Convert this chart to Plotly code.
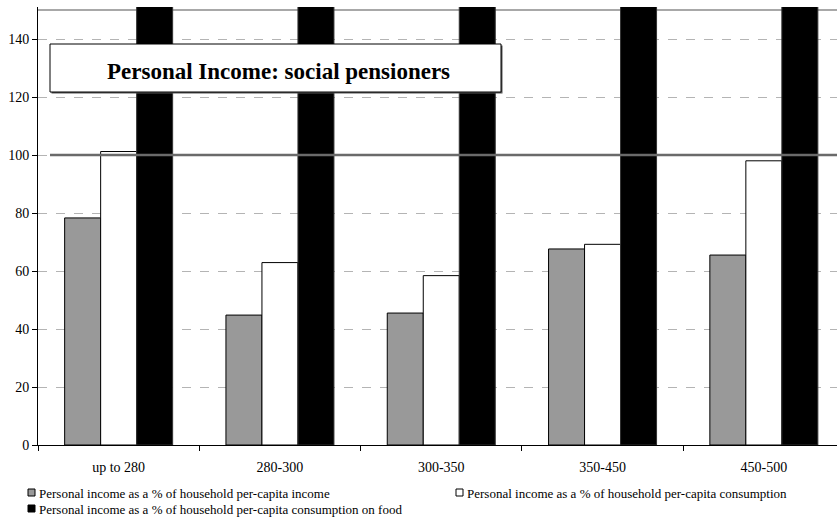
import plotly.graph_objects as go

# ---------------- data ----------------
categories = ["up to 280", "280-300", "300-350", "350-450", "450-500"]
share_of_income = [78.3, 44.8, 45.5, 67.6, 65.5]
share_of_consumption = [101.2, 62.9, 58.4, 69.2, 98.0]
share_of_food_consumption = [185, 230, 215, 190, 200]  # off-scale in the picture
series_names = [
    "Personal income as a % of household per-capita income",
    "Personal income as a % of household per-capita consumption",
    "Personal income as a % of household per-capita consumption on food",
]
reference_level = 100
y_ticks = [0, 20, 40, 60, 80, 100, 120, 140]
title_text = "Personal Income: social pensioners"

# ---------------- geometry ----------------
W, H = 837, 519
L, T, B, R = 38, 7, 74, 0
PW, PH = W - L - R, H - T - B
CAT_PX = 161.3
Y_PX = 2.9
FONT = "Times New Roman, Liberation Serif, DejaVu Serif, serif"


def px_x(x):
    return (x - L) / PW


def px_y(y):
    return (H - B - y) / PH


fills = ["#999999", "#ffffff", "#000000"]
lines = ["#000000", "#000000", "#333333"]
values = [share_of_income, share_of_consumption, share_of_food_consumption]

fig = go.Figure()
for name, vals, fc, lc in zip(series_names, values, fills, lines):
    fig.add_trace(go.Bar(x=categories, y=vals, name=name,
                         marker=dict(color=fc, line=dict(color=lc, width=1)),
                         showlegend=False, hoverinfo="skip"))

shapes = []
shapes.append(dict(type="line", xref="paper", yref="y", x0=0, x1=1, y0=150, y1=150,
                   line=dict(color="#a8a8a8", width=2), layer="below"))
shapes.append(dict(type="line", xref="paper", yref="y", x0=px_x(50), x1=1,
                   y0=reference_level, y1=reference_level,
                   line=dict(color="#6a6a6a", width=2.5), layer="above"))
shapes.append(dict(type="rect", xref="paper", yref="paper",
                   x0=px_x(51.5), x1=px_x(502.5), y0=px_y(93.5), y1=px_y(45.5),
                   line=dict(width=0), fillcolor="#555555", layer="above"))
shapes.append(dict(type="rect", xref="paper", yref="paper",
                   x0=px_x(50), x1=px_x(501), y0=px_y(92), y1=px_y(44),
                   line=dict(color="#000000", width=1), fillcolor="#ffffff", layer="above"))

annotations = [dict(text=title_text, xref="paper", yref="paper",
                    x=px_x(278), y=px_y(72), showarrow=False,
                    font=dict(family=FONT, size=23, color="#000000", weight="bold"),
                    xanchor="center", yanchor="middle")]

legend_pos = [(28, 493), (456, 493), (28, 509)]
for (lx, ly), name, fc in zip(legend_pos, series_names, fills):
    shapes.append(dict(type="rect", xref="paper", yref="paper",
                       x0=px_x(lx), x1=px_x(lx + 7), y0=px_y(ly + 3), y1=px_y(ly - 4),
                       line=dict(color="#000000", width=1), fillcolor=fc))
    annotations.append(dict(text=name, xref="paper", yref="paper",
                            x=px_x(lx + 9), y=px_y(ly), showarrow=False,
                            xanchor="left", yanchor="middle",
                            font=dict(family=FONT, size=13, color="#000000")))

fig.update_layout(
    width=W, height=H, autosize=False,
    margin=dict(l=L, r=R, t=T, b=B, pad=0),
    paper_bgcolor="#ffffff", plot_bgcolor="#ffffff",
    barmode="group", bargap=1 - 108 / CAT_PX, bargroupgap=0,
    shapes=shapes, annotations=annotations,
    showlegend=False,
    font=dict(family=FONT, color="#000000"),
    xaxis=dict(type="category", range=[-0.5, -0.5 + PW / CAT_PX],
               tickson="boundaries", ticks="outside", ticklen=5, tickcolor="#000000",
               showline=True, linecolor="#000000", linewidth=1, showgrid=False,
               tickfont=dict(family=FONT, size=14, color="#000000"),
               ticklabelstandoff=9),
    yaxis=dict(range=[0, PH / Y_PX], tickvals=y_ticks, ticks="outside", ticklen=5,
               tickcolor="#000000", showline=True, linecolor="#000000", linewidth=1,
               showgrid=True, gridcolor="#b4b4b4", griddash="dash", gridwidth=1,
               zeroline=False,
               tickfont=dict(family=FONT, size=14, color="#000000")),
)

fig.write_html("out.html")
